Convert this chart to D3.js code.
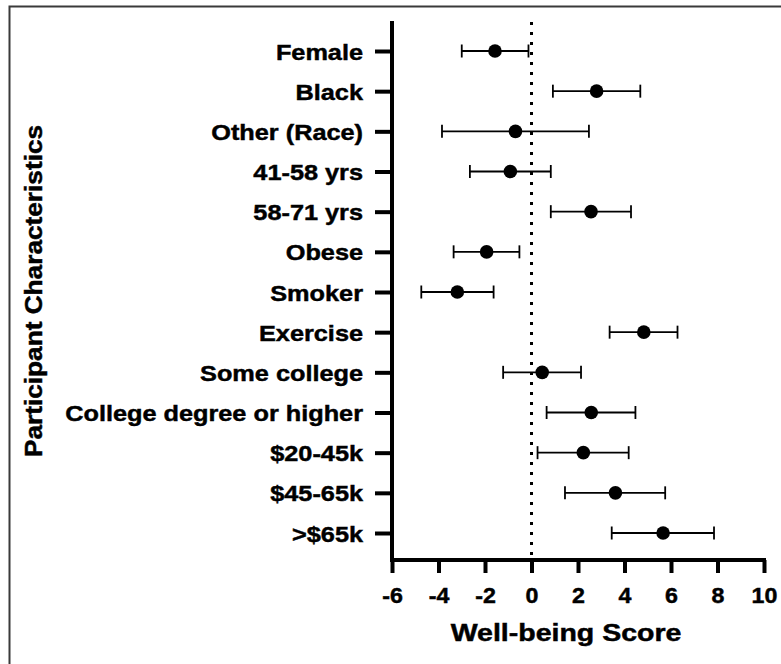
<!DOCTYPE html>
<html>
<head>
<meta charset="utf-8">
<script src="https://cdn.jsdelivr.net/npm/d3@7"></script>
<style>
  html, body { margin: 0; padding: 0; background: #fff; }
  svg { display: block; }
  text { font-family: "Liberation Sans", Arial, sans-serif; font-weight: bold; fill: #000;
         stroke: #000; stroke-width: 0.45px; }
</style>
</head>
<body>
<script>
// Regression estimates (mean with 95% CI) for each participant characteristic
const categories = ["Female", "Black", "Other (Race)", "41-58 yrs", "58-71 yrs", "Obese", "Smoker",
  "Exercise", "Some college", "College degree or higher", "$20-45k", "$45-65k", ">$65k"];
const estimates = [-1.57, 2.80, -0.69, -0.91, 2.56, -1.93, -3.19, 4.83, 0.46, 2.57, 2.23, 3.61, 5.66];
const lowerCI   = [-3.00, 0.92, -3.85, -2.65, 0.83, -3.35, -4.74, 3.36, -1.22, 0.65, 0.26, 1.44, 3.45];
const upperCI   = [-0.13, 4.68, 2.47, 0.83, 4.28, -0.52, -1.63, 6.28, 2.13, 4.47, 4.18, 5.75, 7.85];
const xTicks = [-6, -4, -2, 0, 2, 4, 6, 8, 10];

const W = 781, H = 664;
const plot = { left: 392, right: 764, top: 21, bottom: 560 };

const svg = d3.select("body").append("svg").attr("width", W).attr("height", H);

// frame (left and top edges)
svg.append("path")
  .attr("d", `M9.5,${H} V6.5 H${W}`)
  .attr("fill", "none").attr("stroke", "#3a3a3a").attr("stroke-width", 2);

const x = d3.scaleLinear().domain([-6, 10]).range([plot.left, plot.right]);
const y = d3.scalePoint().domain(categories).range([51, 533]);

const rows = categories.map((c, i) => ({ c, est: estimates[i], lo: lowerCI[i], hi: upperCI[i] }));

// zero reference line
svg.append("line")
  .attr("x1", x(0)).attr("x2", x(0))
  .attr("y1", plot.top + 1).attr("y2", plot.bottom)
  .attr("stroke", "#000").attr("stroke-width", 3)
  .attr("stroke-dasharray", "3 7");

// y axis
const yAxis = svg.append("g")
  .attr("transform", `translate(${plot.left},0)`)
  .call(d3.axisLeft(y).tickSize(17).tickPadding(0));
yAxis.select(".domain").remove();
yAxis.selectAll(".tick line").attr("stroke", "#000").attr("stroke-width", 4);
yAxis.selectAll(".tick text")
  .attr("x", null).attr("dy", null)
  .attr("transform", `translate(-29,8) scale(1.15,1)`)
  .attr("text-anchor", "end")
  .style("font-size", "22px");
svg.append("line")
  .attr("x1", plot.left).attr("x2", plot.left)
  .attr("y1", plot.top).attr("y2", plot.bottom + 2)
  .attr("stroke", "#000").attr("stroke-width", 4);

// x axis
const xAxis = svg.append("g")
  .attr("transform", `translate(0,${plot.bottom})`)
  .call(d3.axisBottom(x).tickValues(xTicks).tickSize(13).tickPadding(0).tickFormat(d => String(d)));
xAxis.select(".domain").remove();
xAxis.selectAll(".tick line").attr("stroke", "#000").attr("stroke-width", 4);
xAxis.selectAll(".tick text")
  .attr("y", null).attr("dy", null)
  .attr("transform", `translate(0,43) scale(1.08,1)`)
  .attr("text-anchor", "middle")
  .style("font-size", "21.5px");
svg.append("line")
  .attr("x1", plot.left - 2).attr("x2", plot.right + 2)
  .attr("y1", plot.bottom).attr("y2", plot.bottom)
  .attr("stroke", "#000").attr("stroke-width", 4);

// error bars
const bars = svg.append("g").selectAll("g").data(rows).join("g");
bars.append("line")
  .attr("x1", d => x(d.lo)).attr("x2", d => x(d.hi))
  .attr("y1", d => y(d.c)).attr("y2", d => y(d.c))
  .attr("stroke", "#000").attr("stroke-width", 1.8);
bars.append("line")
  .attr("x1", d => x(d.lo)).attr("x2", d => x(d.lo))
  .attr("y1", d => y(d.c) - 6.5).attr("y2", d => y(d.c) + 6.5)
  .attr("stroke", "#000").attr("stroke-width", 1.8);
bars.append("line")
  .attr("x1", d => x(d.hi)).attr("x2", d => x(d.hi))
  .attr("y1", d => y(d.c) - 6.5).attr("y2", d => y(d.c) + 6.5)
  .attr("stroke", "#000").attr("stroke-width", 1.8);
bars.append("circle")
  .attr("cx", d => x(d.est)).attr("cy", d => y(d.c))
  .attr("r", 6.8).attr("fill", "#000");

// axis titles
svg.append("text")
  .attr("transform", `translate(566,641) scale(1.24,1)`)
  .attr("text-anchor", "middle")
  .style("font-size", "23px")
  .text("Well-being Score");
svg.append("text")
  .attr("transform", `translate(42,291) rotate(-90) scale(1.14,1)`)
  .attr("text-anchor", "middle")
  .style("font-size", "23px")
  .text("Participant Characteristics");
</script>
</body>
</html>
